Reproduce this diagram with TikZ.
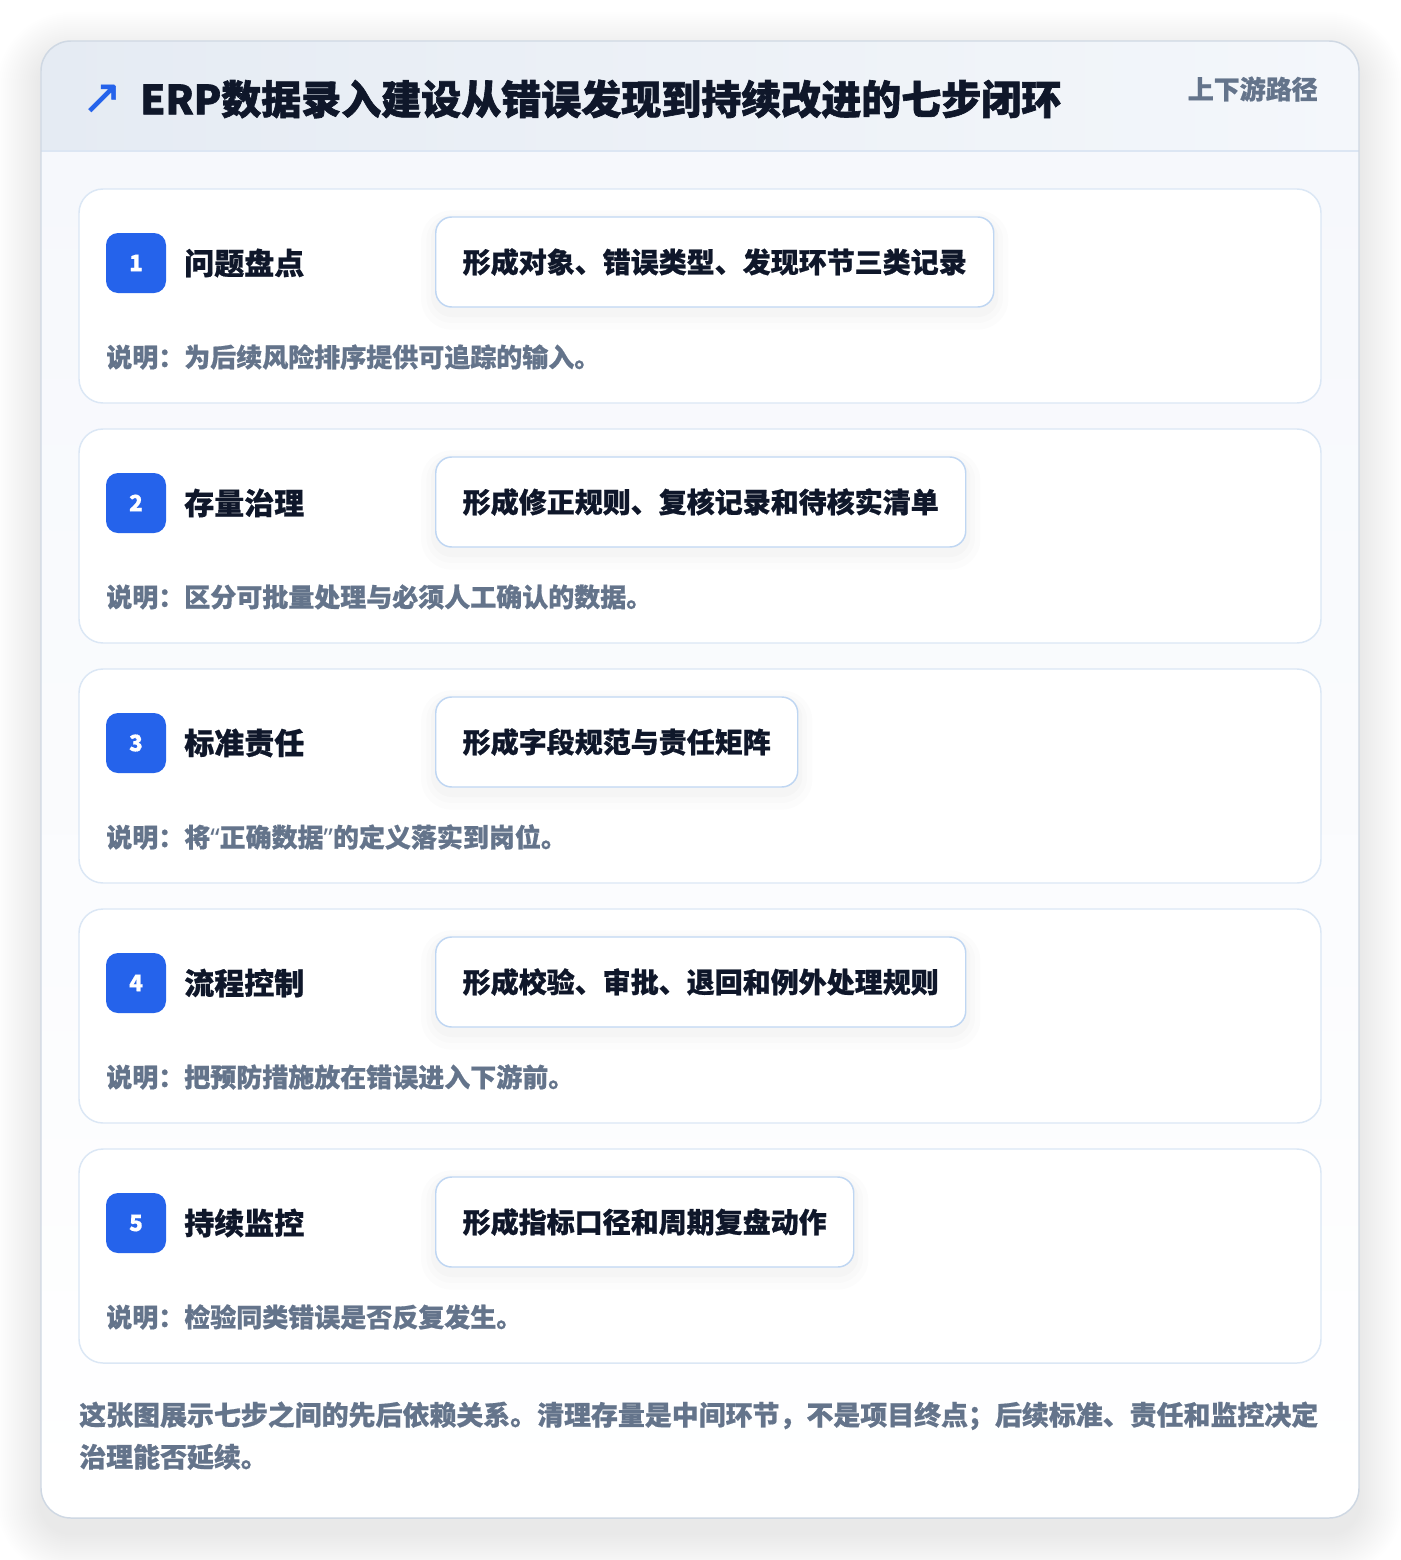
\documentclass[tikz,border=0pt]{standalone}
\usepackage{fontspec}
\setmainfont{Noto Sans CJK SC}[BoldFeatures={FakeBold=0.7}]
\newfontfamily\heavyfont{Noto Sans CJK SC}[BoldFeatures={FakeBold=1.6}]
\newfontfamily\latinfont{Noto Sans}[BoldFeatures={FakeBold=0.7}]
\newfontfamily\symfont{DejaVu Sans}[FakeBold=1.2]
\definecolor{badgeblue}{HTML}{2563EB}
\definecolor{darktext}{HTML}{0F172A}
\definecolor{greytext}{HTML}{64748B}
\definecolor{stepborder}{HTML}{DBE7F5}
\definecolor{outborder}{HTML}{BFD6F2}
\definecolor{cardborder}{HTML}{CFD8E3}
\definecolor{hdrL}{HTML}{E5EBF3}
\definecolor{hdrR}{HTML}{F4F7FB}
\definecolor{hdrline}{HTML}{DCE6F3}
\definecolor{bodytop}{HTML}{F6F8FC}
\newcommand\myLq{{\latinfont “}}
\newcommand\myRq{{\latinfont ”}}
\begin{document}
\begin{tikzpicture}[x=0.75pt,y=-0.75pt,
  stepbox/.style={draw=stepborder, line width=1.1pt, fill=white, rounded corners=18pt,
    minimum width=931.5pt, minimum height=160.5pt, inner sep=0pt},
  badge/.style={fill=badgeblue, rounded corners=9pt, minimum size=45pt, inner sep=0pt,
    text=white, font=\bfseries\fontsize{17pt}{20pt}\selectfont},
  steptitle/.style={anchor=west, inner sep=0pt, text=darktext,
    font=\bfseries\fontsize{22.5pt}{27pt}\selectfont},
  outbox/.style={anchor=west, draw=outborder, line width=1.1pt, fill=white,
    rounded corners=12pt, minimum height=67.5pt, inner xsep=20.25pt, inner ysep=0pt,
    text=darktext, font=\bfseries\fontsize{21pt}{25pt}\selectfont,
    preaction={draw=black, draw opacity=0.010, line width=22pt, transform canvas={yshift=-6pt}},
    preaction={draw=black, draw opacity=0.012, line width=14pt, transform canvas={yshift=-5pt}},
    preaction={draw=black, draw opacity=0.015, line width=7pt, transform canvas={yshift=-4pt}}},
  desc/.style={anchor=west, inner sep=0pt, text=greytext,
    font=\bfseries\fontsize{19.5pt}{24pt}\selectfont},
  footnote/.style={anchor=base west, inner sep=0pt, text=greytext, align=left,
    font=\bfseries\fontsize{20.2pt}{31.5pt}\selectfont},
  hdrtag/.style={anchor=east, inner sep=0pt, text=greytext,
    font=\bfseries\fontsize{19.5pt}{24pt}\selectfont},
  titletext/.style={anchor=west, inner sep=0pt, text=darktext,
    font=\heavyfont\bfseries\fontsize{30pt}{36pt}\selectfont},
  icon/.style={inner sep=0pt, text=badgeblue, font=\symfont\fontsize{36pt}{40pt}\selectfont}
]
\useasboundingbox (0,0) rectangle (1400,1560);
\fill[white] (0,0) rectangle (1400,1560);
% card shadow
\foreach \i in {1,...,22} {
  \pgfmathsetmacro\rr{22.5+1.5*\i}
  \fill[black, opacity=0.0035, rounded corners=\rr pt]
    (41-2*\i, 56-2*\i) rectangle (1359+2*\i, 1533+2*\i);
}
% card
\begin{scope}
  \clip[rounded corners=22.5pt] (41,41) rectangle (1359,1518);
  \shade[top color=bodytop, bottom color=white] (41,151) rectangle (1359,1518);
  \shade[left color=hdrL, right color=hdrR] (41,41) rectangle (1359,151);
\end{scope}
\draw[hdrline, line width=1.1pt] (41,151) -- (1359,151);
\draw[cardborder, line width=1.1pt, rounded corners=22.5pt] (41,41) rectangle (1359,1518);
% header
\node[icon] (ic) at (102,99) {↗};
\node[titletext] (title) at (140,99) {ERP数据录入建设从错误发现到持续改进的七步闭环};
\node[hdrtag] (tag) at (1318,89) {上下游路径};
% steps
\foreach \i/\t/\o/\d in {
  1/问题盘点/形成对象、错误类型、发现环节三类记录/说明：为后续风险排序提供可追踪的输入。,
  2/存量治理/形成修正规则、复核记录和待核实清单/说明：区分可批量处理与必须人工确认的数据。,
  3/标准责任/形成字段规范与责任矩阵/说明：将\myLq 正确数据\myRq 的定义落实到岗位。,
  4/流程控制/形成校验、审批、退回和例外处理规则/说明：把预防措施放在错误进入下游前。,
  5/持续监控/形成指标口径和周期复盘动作/说明：检验同类错误是否反复发生。} {
  \pgfmathsetmacro\ty{189+240*(\i-1)}
  \node[stepbox] (s\i) at (700,\ty+107) {};
  \node[badge] (b\i) at (136,\ty+74) {\i};
  \node[steptitle] (t\i) at (184,\ty+74) {\t};
  \node[outbox] (o\i) at (435,\ty+73) {\o};
  \node[desc] (d\i) at (106,\ty+168) {\d};
}
% footer
\node[footnote] (foot) at (79,1467) {这张图展示七步之间的先后依赖关系。清理存量是中间环节，不是项目终点；后续标准、责任和监控决定\\治理能否延续。};
\end{tikzpicture}
\end{document}
